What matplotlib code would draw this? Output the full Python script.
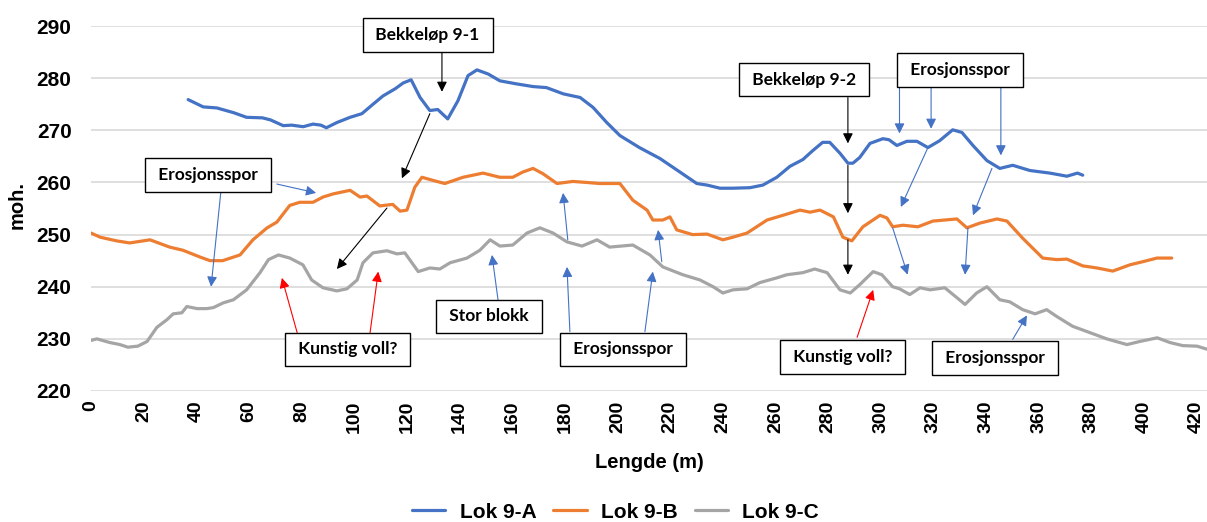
import matplotlib.pyplot as plt

# Terrengprofiler langs Lok 9 (lengde i m, høyde i moh.)
lengde_a = [36.9, 42.6, 47.8, 54.1, 59.1, 65.1, 68.2, 73.0, 76.2, 80.6, 84.3, 87.3, 89.4, 93.4, 98.4, 102.9, 107.1,
            110.9, 115.6, 118.6, 121.6, 125.0, 128.7, 131.7, 135.5, 139.4, 143.2, 146.6, 150.9, 155.3, 161.8, 167.9,
            173.0, 179.4, 185.8, 190.7, 195.9, 200.9, 208.3, 216.1, 223.7, 230.1, 234.0, 238.9, 243.6, 250.3, 255.2,
            260.5, 265.5, 270.4, 273.9, 277.9, 280.6, 284.5, 287.5, 289.4, 292.0, 295.9, 300.8, 303.1, 306.1, 309.9,
            313.7, 317.9, 322.3, 327.3, 330.8, 335.0, 340.3, 345.2, 350.1, 356.6, 364.2, 370.7, 374.7, 376.7]
hoyde_a = [275.9, 274.5, 274.3, 273.4, 272.5, 272.4, 272.0, 270.9, 271.0, 270.7, 271.2, 271.0, 270.5, 271.5, 272.5,
           273.2, 275.0, 276.6, 278.0, 279.1, 279.7, 276.3, 273.8, 274.0, 272.2, 275.7, 280.5, 281.6, 280.8, 279.5,
           278.9, 278.4, 278.2, 277.0, 276.3, 274.4, 271.5, 269.0, 266.7, 264.6, 262.0, 259.8, 259.5, 258.9, 258.9,
           259.0, 259.5, 261.0, 263.1, 264.4, 266.0, 267.7, 267.7, 265.6, 263.7, 263.7, 264.8, 267.5, 268.4, 268.2,
           267.1, 267.9, 267.9, 266.7, 268.0, 270.1, 269.6, 267.1, 264.2, 262.7, 263.3, 262.3, 261.8, 261.2, 261.8,
           261.4]

lengde_b = [0, 3.5, 9.7, 14.7, 22.4, 29.9, 34.9, 41.4, 45.2, 50.0, 56.6, 61.5, 66.9, 70.6, 75.5, 79.3, 84.3, 88.1,
            91.9, 98.4, 102.2, 104.8, 109.7, 114.6, 117.4, 120.0, 123.0, 125.7, 129.9, 134.4, 141.3, 148.9, 155.3,
            160.2, 164.0, 167.9, 171.6, 177.0, 183.0, 188.4, 193.2, 200.9, 205.8, 211.2, 213.4, 217.2, 219.9, 222.5,
            228.5, 234.0, 240.0, 243.8, 249.2, 256.8, 262.8, 269.3, 273.1, 276.9, 282.0, 285.6, 289.0, 293.2, 299.7,
            302.3, 304.5, 308.4, 314.1, 319.8, 328.9, 332.7, 337.6, 344.1, 347.9, 353.9, 361.5, 366.8, 370.7, 376.7,
            382.1, 388.1, 394.6, 399.5, 404.9, 410.5]
hoyde_b = [250.3, 249.5, 248.8, 248.4, 249.0, 247.6, 247.0, 245.7, 245.0, 245.0, 246.1, 249.0, 251.3, 252.4, 255.6,
           256.2, 256.2, 257.2, 257.8, 258.5, 257.2, 257.4, 255.5, 255.8, 254.5, 254.7, 259.1, 261.0, 260.4, 259.8,
           261.0, 261.8, 261.0, 261.0, 262.0, 262.7, 261.7, 259.8, 260.2, 260.0, 259.8, 259.8, 256.6, 254.7, 252.8,
           252.8, 253.4, 250.9, 250.0, 250.1, 249.0, 249.5, 250.3, 252.8, 253.7, 254.7, 254.3, 254.7, 253.4, 249.5,
           248.8, 251.5, 253.7, 253.2, 251.5, 251.8, 251.5, 252.6, 253.0, 251.3, 252.2, 253.0, 252.6, 249.3, 245.5,
           245.2, 245.3, 244.0, 243.6, 243.0, 244.2, 244.8, 245.5, 245.5]

lengde_c = [0, 2.2, 7.1, 11.0, 14.0, 17.8, 21.3, 25.0, 28.9, 31.2, 34.5, 36.4, 40.3, 44.0, 46.5, 50.2, 54.1, 59.1,
            64.2, 67.4, 71.2, 75.5, 80.5, 83.8, 88.1, 93.4, 97.2, 101.1, 103.3, 107.1, 112.4, 116.2, 119.2, 124.3,
            128.7, 132.5, 136.4, 142.8, 147.7, 151.6, 155.3, 160.2, 165.6, 170.5, 175.5, 180.8, 186.5, 192.2, 197.0,
            205.8, 212.3, 217.2, 224.8, 231.3, 236.3, 240.0, 243.8, 249.2, 254.1, 260.5, 264.3, 270.4, 274.9, 279.6,
            284.5, 288.4, 292.0, 297.1, 300.4, 304.5, 307.1, 311.0, 314.9, 318.7, 324.3, 328.9, 332.0, 336.4, 340.3,
            345.2, 349.0, 353.9, 358.6, 363.0, 366.8, 372.9, 379.4, 385.8, 393.5, 398.4, 405.0, 409.8, 414.7, 420.1,
            424.0]
hoyde_c = [229.7, 230.0, 229.3, 228.9, 228.4, 228.6, 229.5, 232.2, 233.7, 234.8, 235.0, 236.2, 235.8, 235.8, 236.0,
           236.9, 237.5, 239.4, 242.7, 245.2, 246.1, 245.5, 244.2, 241.3, 239.8, 239.2, 239.6, 241.3, 244.6, 246.5,
           246.9, 246.3, 246.5, 242.9, 243.6, 243.4, 244.6, 245.5, 247.0, 249.0, 247.8, 248.0, 250.3, 251.3, 250.3,
           248.6, 247.8, 249.0, 247.6, 248.0, 246.1, 243.8, 242.3, 241.3, 240.0, 238.8, 239.4, 239.6, 240.8, 241.7,
           242.3, 242.7, 243.4, 242.7, 239.4, 238.8, 240.4, 242.9, 242.3, 240.0, 239.6, 238.5, 239.8, 239.4, 239.8,
           237.9, 236.6, 238.8, 240.0, 237.5, 237.1, 235.6, 234.8, 235.6, 234.3, 232.4, 231.2, 230.0, 228.9, 229.5,
           230.2, 229.3, 228.7, 228.6, 228.0]

serier = ["Lok 9-A", "Lok 9-B", "Lok 9-C"]
farger = ["#4472C4", "#ED7D31", "#A5A5A5"]
x_ticks = list(range(0, 421, 20))
y_ticks = list(range(220, 291, 10))

# tekstbokser: (tekst, lengde, høyde)
bokser = [
    ("Bekkeløp 9-1", 127.9, 288.3),
    ("Erosjonsspor", 44.4, 261.4),
    ("Kunstig voll?", 97.6, 228.0),
    ("Stor blokk", 151.2, 234.3),
    ("Erosjonsspor", 202.1, 228.0),
    ("Bekkeløp 9-2", 270.9, 279.7),
    ("Erosjonsspor", 330.0, 281.6),
    ("Kunstig voll?", 285.6, 226.5),
    ("Erosjonsspor", 343.4, 226.3),
]

# piler: (fra x, fra y, til x, til y, farge)
piler = [
    (133.3, 285.0, 133.3, 277.4, "black"),
    (128.7, 273.2, 118.1, 260.8, "black"),
    (112.4, 255.1, 93.4, 243.4, "black"),
    (287.5, 276.3, 287.5, 267.5, "black"),
    (287.5, 263.3, 287.5, 254.1, "black"),
    (287.5, 249.0, 287.5, 242.3, "black"),
    (70.6, 259.7, 85.5, 258.0, "#4472C4"),
    (49.3, 258.1, 45.6, 240.0, "#4472C4"),
    (154.6, 237.5, 152.3, 246.1, "#4472C4"),
    (181.9, 231.4, 180.8, 243.8, "#4472C4"),
    (181.1, 249.0, 179.3, 258.0, "#4472C4"),
    (210.4, 231.4, 213.4, 242.9, "#4472C4"),
    (216.8, 244.8, 215.4, 250.9, "#4472C4"),
    (307.1, 278.7, 307.1, 269.4, "#4472C4"),
    (319.1, 278.7, 319.1, 270.3, "#4472C4"),
    (345.6, 278.7, 345.6, 265.2, "#4472C4"),
    (317.9, 266.7, 307.6, 255.3, "#4472C4"),
    (342.2, 262.7, 335.0, 253.7, "#4472C4"),
    (304.5, 251.3, 310.2, 242.3, "#4472C4"),
    (333.1, 251.3, 332.0, 242.3, "#4472C4"),
    (350.1, 229.9, 355.5, 234.5, "#4472C4"),
    (78.3, 231.2, 72.5, 241.7, "red"),
    (106.0, 231.2, 109.1, 242.9, "red"),
    (291.0, 230.3, 297.1, 239.4, "red"),
]

plt.rcParams['font.family'] = ['Liberation Sans', 'DejaVu Sans']

fig = plt.figure(figsize=(12.07, 5.22), dpi=100)
ax = fig.add_axes([0.0754, 0.251, 0.9246, 0.699])

for xs, ys, navn, farge in zip([lengde_a, lengde_b, lengde_c], [hoyde_a, hoyde_b, hoyde_c], serier, farger):
    ax.plot(xs, ys, color=farge, lw=2.3, label=navn, solid_capstyle='round', zorder=3)

for x0, y0, x1, y1, farge in piler:
    ax.annotate("", xy=(x1, y1), xytext=(x0, y0),
                arrowprops=dict(arrowstyle='-|>', color=farge, lw=0.8, mutation_scale=15,
                                shrinkA=0, shrinkB=0), zorder=4)

for tekst, x, y in bokser:
    ax.text(x, y, " " + tekst + " ", ha='center', va='center', fontsize=12.5, fontweight='bold',
            family=['Lato', 'DejaVu Sans'], zorder=5,
            bbox=dict(boxstyle='square,pad=0.5', facecolor='white', edgecolor='black', lw=1.0))

ax.set_xlim(0, 423.9)
ax.set_ylim(220, 290)
ax.set_xticks(x_ticks)
ax.set_yticks(y_ticks)
ax.set_xticklabels([str(v) for v in x_ticks], rotation=90, fontsize=14, fontweight='bold')
ax.set_yticklabels([str(v) for v in y_ticks], fontsize=15, fontweight='bold')
ax.tick_params(axis='both', length=0)
ax.tick_params(axis='y', pad=14)
ax.tick_params(axis='x', pad=7)
ax.grid(axis='y', color='#D9D9D9', lw=1.2, zorder=0)
for s in ax.spines.values():
    s.set_visible(False)

ax.set_xlabel("Lengde (m)", fontsize=14.5, fontweight='bold')
ax.xaxis.set_label_coords(0.5, -0.17)
ax.set_ylabel("moh.", fontsize=14.5, fontweight='bold')
ax.yaxis.set_label_coords(-0.058, 0.51)

fig.legend(loc='lower center', bbox_to_anchor=(0.51, -0.035), ncol=3, frameon=False,
           prop=dict(size=15, weight='bold'), handlelength=1.6, columnspacing=0.8, handletextpad=0.7)

fig.savefig("out.png", dpi=100)
